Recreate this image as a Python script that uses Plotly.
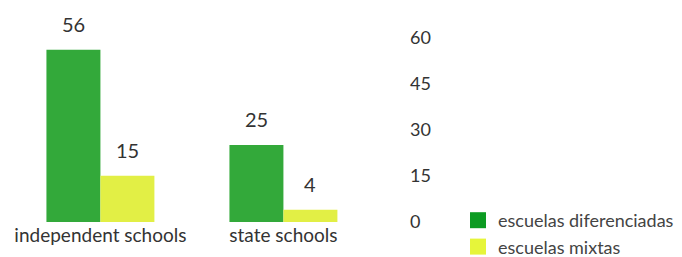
import plotly.graph_objects as go

categories = ["independent schools", "state schools"]
diferenciadas = [56, 25]
mixtas = [15, 4]
y_ticks = [0, 15, 30, 45, 60]
series_names = ["escuelas diferenciadas", "escuelas mixtas"]

FONT = "Lato, 'Open Sans', sans-serif"
GREEN = "#33a93a"
YELLOW = "#e2ef45"
LEG_GREEN = "#0c9b22"
LEG_YELLOW = "#e6f53a"

BARGAP = 0.41
xpos = list(range(len(categories)))
bar_w = (1 - BARGAP) / 2

fig = go.Figure()
fig.add_trace(go.Bar(x=xpos, y=diferenciadas, name=series_names[0],
                     marker=dict(color=GREEN, line=dict(width=0)),
                     showlegend=False))
fig.add_trace(go.Bar(x=xpos, y=mixtas, name=series_names[1],
                     marker=dict(color=YELLOW, line=dict(width=0)),
                     showlegend=False))
# legend entries with larger square swatches
for nm, col in zip(series_names, [LEG_GREEN, LEG_YELLOW]):
    fig.add_trace(go.Scatter(x=[None], y=[None], mode="markers", name=nm,
                             marker=dict(symbol="square", size=18, color=col),
                             showlegend=True, hoverinfo="skip"))

annotations = []
for i, x in enumerate(xpos):
    for vals, off in ((diferenciadas, -bar_w / 2), (mixtas, bar_w / 2)):
        annotations.append(dict(x=x + off, y=vals[i], xref="x", yref="y",
                                text=str(vals[i]), showarrow=False,
                                yanchor="bottom", yshift=12,
                                font=dict(size=20, color="#333", family=FONT)))

fig.update_layout(
    width=682, height=257,
    margin=dict(l=0, r=290, t=14, b=41),
    paper_bgcolor="white", plot_bgcolor="white",
    barmode="group", bargap=BARGAP, bargroupgap=0,
    font=dict(family=FONT, size=16, color="#333"),
    showlegend=True,
    legend=dict(x=1.148, xanchor="left", y=0.1, yanchor="top",
                font=dict(size=18, color="#444"), tracegroupgap=0,
                bgcolor="rgba(0,0,0,0)", itemwidth=30),
    annotations=annotations,
    xaxis=dict(tickmode="array", tickvals=xpos, ticktext=categories,
               range=[-0.505, 1.637], showgrid=False, zeroline=False,
               showline=False, ticks="", tickfont=dict(size=19, color="#333")),
    yaxis=dict(side="right", range=[0, 65], tickvals=y_ticks,
               showgrid=False, zeroline=False, showline=False, ticks="",
               tickfont=dict(size=18, color="#333"), ticklabelstandoff=9),
)

fig.write_html("out.html")
